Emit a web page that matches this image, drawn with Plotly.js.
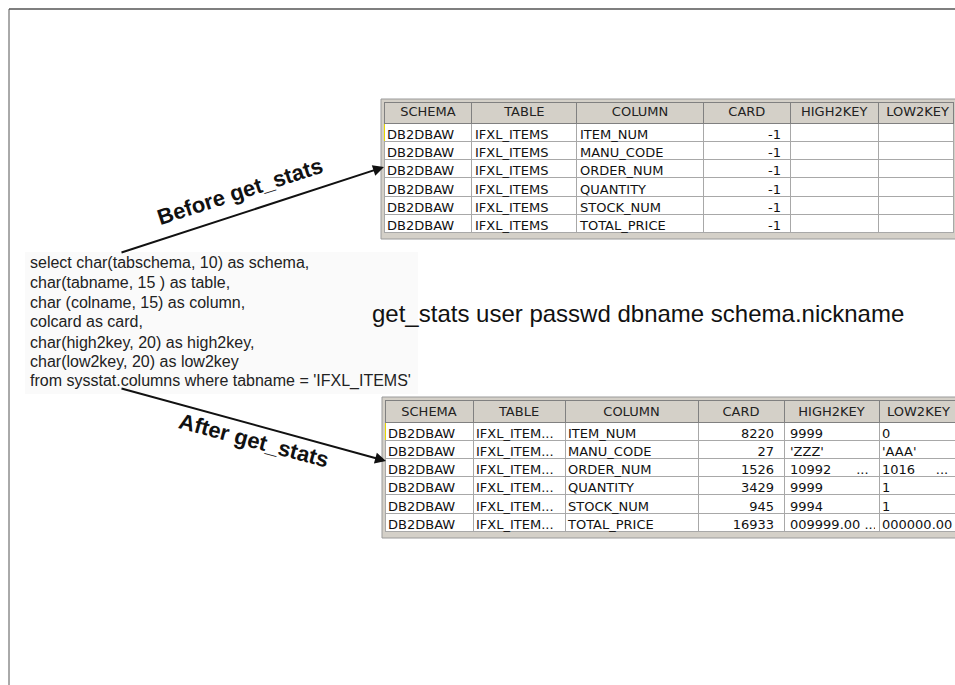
<!DOCTYPE html>
<html>
<head>
<meta charset="utf-8">
<script src="https://cdn.plot.ly/plotly-3.0.1.min.js"></script>
<style>html,body{margin:0;padding:0;background:#fff;}#chart{width:955px;height:685px;}</style>
</head>
<body>
<div id="chart"></div>
<script>
// ---------- data ----------
const headers = ['SCHEMA', 'TABLE', 'COLUMN', 'CARD', 'HIGH2KEY', 'LOW2KEY'];
const columnNames = ['ITEM_NUM', 'MANU_CODE', 'ORDER_NUM', 'QUANTITY', 'STOCK_NUM', 'TOTAL_PRICE'];

const beforeSchema = ['DB2DBAW', 'DB2DBAW', 'DB2DBAW', 'DB2DBAW', 'DB2DBAW', 'DB2DBAW'];
const beforeTable = ['IFXL_ITEMS', 'IFXL_ITEMS', 'IFXL_ITEMS', 'IFXL_ITEMS', 'IFXL_ITEMS', 'IFXL_ITEMS'];
const beforeCard = [-1, -1, -1, -1, -1, -1];
const beforeHigh2key = ['', '', '', '', '', ''];
const beforeLow2key = ['', '', '', '', '', ''];

const afterSchema = ['DB2DBAW', 'DB2DBAW', 'DB2DBAW', 'DB2DBAW', 'DB2DBAW', 'DB2DBAW'];
const afterTable = ['IFXL_ITEM...', 'IFXL_ITEM...', 'IFXL_ITEM...', 'IFXL_ITEM...', 'IFXL_ITEM...', 'IFXL_ITEM...'];
const afterCard = [8220, 27, 1526, 3429, 945, 16933];
const afterHigh2key = ['9999', "'ZZZ'", '10992\u00a0\u00a0\u00a0\u00a0\u00a0\u00a0...', '9999', '9994', '009999.00\u00a0...'];
const afterLow2key = ['0', "'AAA'", '1016\u00a0\u00a0\u00a0\u00a0\u00a0...', '1', '1', '000000.00\u00a0...'];

const sqlLines = [
  'select char(tabschema, 10) as schema,',
  'char(tabname, 15 ) as table,',
  'char (colname, 15) as column,',
  'colcard as card,',
  'char(high2key, 20) as high2key,',
  'char(low2key, 20) as low2key',
  "from sysstat.columns where tabname = 'IFXL_ITEMS'"
];
const commandText = 'get_stats user passwd dbname schema.nickname';
const beforeLabel = 'Before get_stats';
const afterLabel = 'After get_stats';

// ---------- layout helpers ----------
const W = 955, H = 685;
const X = px => px / W;
const Y = py => 1 - py / H;

const gridColor = '#a8a8a8';
const yellow = '#e6d600';
const clear = 'rgba(0,0,0,0)';
const FONT = 'DejaVu Sans';

// three superposed table traces per grid:
//  1) fills and grid lines, 2) header captions, 3) cell texts (nudged to sit like the original)
function makeTables(cols, widths, g) {
  const blank = cols.map(c => c.map(() => ''));
  const hAlign = ['center', 'center', 'center', 'center', 'center', 'left'];
  const cAlign = ['left', 'left', 'left', 'right', 'left', 'left'];
  const gridLines = cols.map((c, j) => c.map((v, i) => (i === 0 && j === 0) ? yellow : gridColor));
  const grid = {
    type: 'table',
    domain: {x: [X(g.left), 1], y: [Y(g.frameBottom), Y(g.top)]},
    columnwidth: widths,
    header: {values: headers.map(() => ''), fill: {color: '#d4d0c8'},
             line: {color: '#808080', width: 1},
             font: {family: FONT, size: 13, color: '#222'}, height: g.header},
    cells: {values: blank, fill: {color: '#ffffff'},
            line: {color: gridLines, width: 1},
            font: {family: FONT, size: 13, color: '#111'}, height: g.row}
  };
  const head = {
    type: 'table',
    domain: {x: [X(g.left), 1], y: [Y(g.top + g.header + 2), Y(g.headTextTop)]},
    columnwidth: widths,
    header: {values: headers, align: hAlign, fill: {color: clear},
             line: {color: clear, width: 1},
             font: {family: FONT, size: 13, color: '#222'}, height: g.header},
    cells: {values: []}
  };
  // text columns: left-aligned texts moved 5px left, CARD right edge 2px left of the grid line
  const tw = [widths[0], widths[1], widths[2], widths[3] + 3, widths[4] - 3, widths[5] + 5];
  const body = {
    type: 'table',
    domain: {x: [X(g.left - 5), 1], y: [Y(g.frameBottom), Y(g.top - 2)]},
    columnwidth: tw,
    header: {values: headers.map(() => ''), fill: {color: clear},
             line: {color: clear, width: 1},
             font: {family: FONT, size: 13, color: '#222'}, height: g.header},
    cells: {values: cols, align: cAlign, fill: {color: clear},
            line: {color: clear, width: 1},
            font: {family: FONT, size: 13, color: '#111'}, height: g.row}
  };
  return [grid, head, body];
}

const t1 = {top: 102, header: 21, row: 18.33, headTextTop: 98,
            left: 384, frameLeft: 381, frameTop: 99, frameBottom: 239};
const t2 = {top: 400, header: 22, row: 18.2, headTextTop: 398,
            left: 385, frameLeft: 382, frameTop: 397, frameBottom: 538};

const beforeTraces = makeTables(
  [beforeSchema, beforeTable, columnNames, beforeCard, beforeHigh2key, beforeLow2key],
  [88, 105, 127, 87, 88, 76], t1);
const afterTraces = makeTables(
  [afterSchema, afterTable, columnNames, afterCard, afterHigh2key, afterLow2key],
  [88, 92, 133, 86, 95, 76], t2);

const annotations = [];
const sqlY = [262.3, 282.3, 302.3, 321.7, 342.3, 361.7, 381];
sqlLines.forEach((t, i) => {
  annotations.push({
    xref: 'paper', yref: 'paper', x: X(28), y: Y(sqlY[i]),
    xanchor: 'left', yanchor: 'middle', showarrow: false, text: t,
    font: {family: 'Liberation Sans', size: 16, color: '#222'}
  });
});
annotations.push({
  xref: 'paper', yref: 'paper', x: X(370), y: Y(313.5),
  xanchor: 'left', yanchor: 'middle', showarrow: false, text: commandText,
  font: {family: 'Liberation Sans', size: 24, color: '#111'}
});
annotations.push({
  xref: 'paper', yref: 'paper', x: X(240), y: Y(192), xanchor: 'center', yanchor: 'middle',
  showarrow: false, text: '<b>' + beforeLabel + '</b>', textangle: -18,
  font: {family: 'Liberation Sans', size: 22, color: '#111'}
});
annotations.push({
  xref: 'paper', yref: 'paper', x: X(254), y: Y(440), xanchor: 'center', yanchor: 'middle',
  showarrow: false, text: '<b>' + afterLabel + '</b>', textangle: 15,
  font: {family: 'Liberation Sans', size: 22, color: '#111'}
});
// arrows
annotations.push({
  xref: 'paper', yref: 'paper', x: X(384), y: Y(167), ax: 120 - 384, ay: 253 - 167,
  text: '', showarrow: true, arrowhead: 2, arrowsize: 1.1, arrowwidth: 2, arrowcolor: '#111', standoff: 0
});
annotations.push({
  xref: 'paper', yref: 'paper', x: X(386), y: Y(461), ax: 120 - 386, ay: 388 - 461,
  text: '', showarrow: true, arrowhead: 2, arrowsize: 1.1, arrowwidth: 2, arrowcolor: '#111', standoff: 0
});

const shapes = [
  // page frame
  {type: 'line', xref: 'paper', yref: 'paper', x0: X(9), x1: 1, y0: Y(9), y1: Y(9), line: {color: '#555', width: 1.5}},
  {type: 'line', xref: 'paper', yref: 'paper', x0: X(9), x1: X(9), y0: Y(9), y1: 0, line: {color: '#555', width: 1}},
  // faint SQL box
  {type: 'rect', xref: 'paper', yref: 'paper', x0: X(25), x1: X(418), y0: Y(394), y1: Y(252), fillcolor: '#fafafa', line: {width: 0}, layer: 'below'},
  // grey window frames behind the tables
  {type: 'rect', xref: 'paper', yref: 'paper', x0: X(t1.frameLeft), x1: 1.01, y0: Y(t1.frameBottom), y1: Y(t1.frameTop), fillcolor: '#d4d0c8', line: {color: '#9a9a9a', width: 1}, layer: 'below'},
  {type: 'rect', xref: 'paper', yref: 'paper', x0: X(t2.frameLeft), x1: 1.01, y0: Y(t2.frameBottom), y1: Y(t2.frameTop), fillcolor: '#d4d0c8', line: {color: '#9a9a9a', width: 1}, layer: 'below'}
];

const layout = {
  width: W, height: H,
  margin: {l: 0, r: 0, t: 0, b: 0},
  paper_bgcolor: '#ffffff', plot_bgcolor: '#ffffff',
  xaxis: {visible: false}, yaxis: {visible: false},
  showlegend: false,
  annotations: annotations,
  shapes: shapes
};

Plotly.newPlot('chart', beforeTraces.concat(afterTraces), layout, {staticPlot: true, displayModeBar: false});
</script>
</body>
</html>
